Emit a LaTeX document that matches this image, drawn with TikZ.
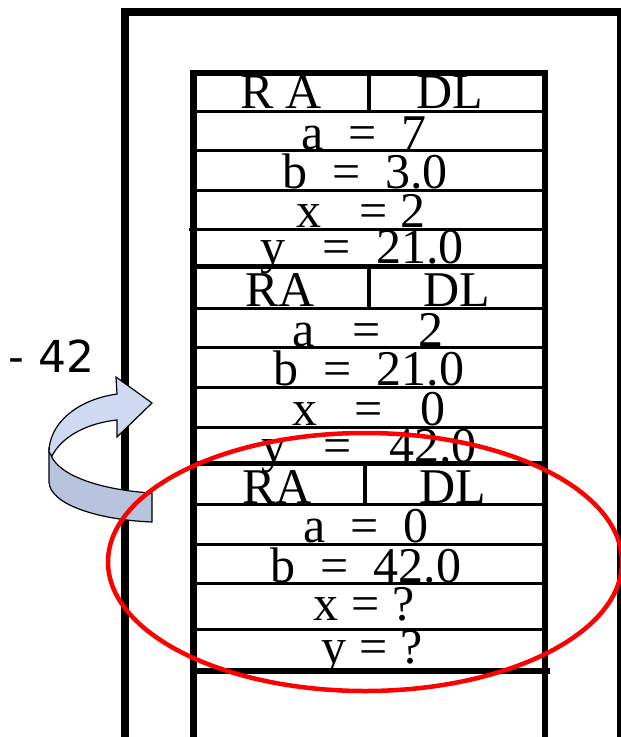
\documentclass[tikz,border=0pt]{standalone}
\usepackage{fontspec}
\setmainfont{Liberation Serif}
\newfontfamily\labelfont{DejaVu Sans}
\usepackage{xcolor}
\definecolor{stack-ink}{HTML}{000000}
\definecolor{stack-mark}{HTML}{FF0000}
\definecolor{arrow-front}{HTML}{CFDAF2}
\definecolor{arrow-back}{HTML}{B8C4DE}
\usepackage{tikz}

\begin{document}
\begin{tikzpicture}[x=1pt, y=-1pt,
    cell/.style={anchor=base, inner sep=0pt, font=\fontsize{50}{50}\selectfont}]

    \useasboundingbox (0, 0) rectangle (621, 737);

    % Memory frame
    \fill[stack-ink] (121, 8) rectangle (622, 16);
    \fill[stack-ink] (121, 8) rectangle (129, 737);
    \fill[stack-ink] (617, 8) rectangle (622, 737);

    % Stack outline
    \fill[stack-ink] (190, 70) rectangle (548, 76);
    \fill[stack-ink] (190, 70) rectangle (197, 737);
    \fill[stack-ink] (542, 70) rectangle (548, 737);

    % Row lines, first record
    \fill[stack-ink] (193, 109.5) rectangle (545, 112.5);
    \fill[stack-ink] (193, 148.5) rectangle (545, 151.5);
    \fill[stack-ink] (193, 188.5) rectangle (545, 191.5);
    \fill[stack-ink] (189, 227.5) rectangle (545, 230.5);
    \fill[stack-ink] (367, 76) rectangle (370.5, 111);

    % Row lines, second record
    \fill[stack-ink] (193, 263.5) rectangle (545, 268.5);
    \fill[stack-ink] (193, 306.5) rectangle (545, 309.5);
    \fill[stack-ink] (193, 345.5) rectangle (545, 348.5);
    \fill[stack-ink] (193, 385.5) rectangle (545, 388.5);
    \fill[stack-ink] (193, 425.5) rectangle (545, 428.5);
    \fill[stack-ink] (367, 266) rectangle (370.5, 308);

    % Row lines, third record
    \fill[stack-ink] (193, 460.5) rectangle (545, 465.5);
    \fill[stack-ink] (193, 502.5) rectangle (545, 505.5);
    \fill[stack-ink] (193, 542.5) rectangle (545, 545.5);
    \fill[stack-ink] (193, 581.5) rectangle (545, 584.5);
    \fill[stack-ink] (193, 627.5) rectangle (545, 630.5);
    \fill[stack-ink] (193, 668) rectangle (550, 674);
    \fill[stack-ink] (363, 463) rectangle (366.5, 504);

    % First record
    \node[cell] (ra1) at (281, 108) {R~A};
    \node[cell] (dl1) at (450, 108) {DL};
    \node[cell] (a1) at (364, 149) {a~~=~~7};
    \node[cell] (b1) at (365, 188) {b~~=~~3.0};
    \node[cell] (x1) at (361, 227) {x~~~=~2};
    \node[cell] (y1) at (362, 263) {y~~~=~~21.0};

    % Second record
    \node[cell] (ra2) at (280, 306) {RA};
    \node[cell] (dl2) at (457, 306) {DL};
    \node[cell] (a2) at (368, 346) {a~~~=~~~2};
    \node[cell] (b2) at (369, 385) {b~~=~~21.0};
    \node[cell] (x2) at (369, 425) {x~~~=~~~0};
    \node[cell] (y2) at (369, 462) {y~~~=~~~42.0};

    % Third record
    \node[cell] (ra3) at (277, 503) {RA};
    \node[cell] (dl3) at (453, 503) {DL};
    \node[cell] (a3) at (366, 542) {a~~=~~0};
    \node[cell] (b3) at (366, 582) {b~~=~~42.0};
    \node[cell] (x3) at (364, 620) {x = ?};
    \node[cell] (y3) at (372, 663) {y = ?};

    % Return value
    \node[anchor=base west, inner sep=0pt, font=\labelfont\fontsize{44}{44}\selectfont]
        (ret) at (8, 372) {- 42};

    % Curved arrow, back of the ribbon
    \filldraw[fill=arrow-back, draw=stack-ink, line width=1.2]
        (49, 450) -- (49, 482) .. controls (50, 505) and (100, 520) .. (152, 522)
        -- (152, 493) .. controls (100, 490) and (58, 475) .. (51, 455) -- cycle;

    % Curved arrow, front with head
    \filldraw[fill=arrow-front, draw=stack-ink, line width=1.2]
        (117, 394) -- (116, 377) -- (152, 403) -- (117, 437) -- (117, 420)
        .. controls (88, 423) and (62, 436) .. (52, 456) -- (49, 452)
        .. controls (49, 425) and (75, 400) .. (117, 394) -- cycle;

    % Highlight
    \draw[stack-mark, line width=4.5pt] (365, 562) ellipse [x radius=257pt, y radius=129pt];

\end{tikzpicture}
\end{document}
